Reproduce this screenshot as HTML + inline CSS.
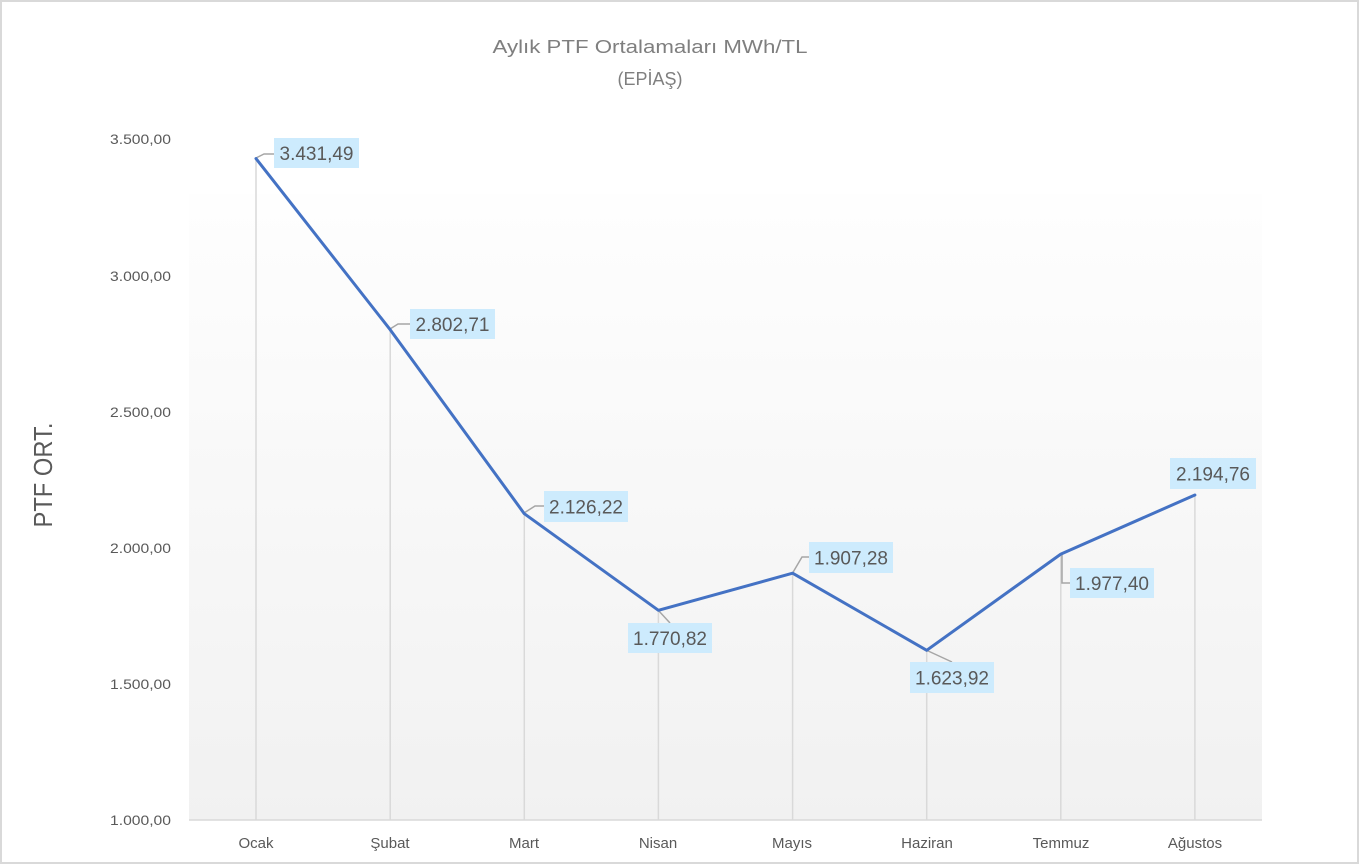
<!DOCTYPE html>
<html>
<head>
<meta charset="utf-8">
<style>
  html,body{margin:0;padding:0;background:#fff;}
  body{width:1360px;height:865px;overflow:hidden;}
  svg{display:block;}
  text{font-family:"Liberation Sans","DejaVu Sans",sans-serif;}
</style>
</head>
<body>
<svg width="1360" height="865" viewBox="0 0 1360 865" xmlns="http://www.w3.org/2000/svg">
  <defs>
    <linearGradient id="pa" x1="0" y1="0" x2="0" y2="1">
      <stop offset="0" stop-color="#fefefe"/>
      <stop offset="1" stop-color="#f1f1f1"/>
    </linearGradient>
  </defs>
  <!-- outer background & border -->
  <rect x="0" y="0" width="1360" height="865" fill="#ffffff"/>
  <rect x="1" y="1" width="1357" height="862" fill="none" stroke="#d9d9d9" stroke-width="2"/>

  <!-- title -->
  <text x="650" y="53" text-anchor="middle" font-size="18" fill="#7f7f7f" textLength="315" lengthAdjust="spacingAndGlyphs">Aylık PTF Ortalamaları MWh/TL</text>
  <text x="650" y="85" text-anchor="middle" font-size="18" fill="#7f7f7f">(EPİAŞ)</text>

  <!-- plot area -->
  <rect x="189" y="194" width="1073" height="626" fill="url(#pa)"/>

  <!-- y axis title -->
  <text transform="translate(52,475) rotate(-90)" text-anchor="middle" font-size="26" fill="#595959" textLength="105" lengthAdjust="spacingAndGlyphs">PTF ORT.</text>

  <!-- y tick labels -->
  <g font-size="13.5" fill="#595959" text-anchor="end">
    <text x="171" y="144" textLength="61" lengthAdjust="spacingAndGlyphs">3.500,00</text>
    <text x="171" y="281" textLength="61" lengthAdjust="spacingAndGlyphs">3.000,00</text>
    <text x="171" y="417" textLength="61" lengthAdjust="spacingAndGlyphs">2.500,00</text>
    <text x="171" y="553" textLength="61" lengthAdjust="spacingAndGlyphs">2.000,00</text>
    <text x="171" y="689" textLength="61" lengthAdjust="spacingAndGlyphs">1.500,00</text>
    <text x="171" y="825" textLength="61" lengthAdjust="spacingAndGlyphs">1.000,00</text>
  </g>

  <!-- drop lines -->
  <g stroke="#d9d9d9" stroke-width="1.5">
    <line x1="256" y1="158.6" x2="256" y2="820"/>
    <line x1="390.2" y1="329.7" x2="390.2" y2="820"/>
    <line x1="524.3" y1="513.7" x2="524.3" y2="820"/>
    <line x1="658.4" y1="610.3" x2="658.4" y2="820"/>
    <line x1="792.6" y1="573.2" x2="792.6" y2="820"/>
    <line x1="926.7" y1="650.3" x2="926.7" y2="820"/>
    <line x1="1060.8" y1="554.1" x2="1060.8" y2="820"/>
    <line x1="1194.9" y1="495" x2="1194.9" y2="820"/>
  </g>

  <!-- x axis -->
  <line x1="189" y1="820" x2="1262" y2="820" stroke="#d9d9d9" stroke-width="1.5"/>

  <!-- category labels -->
  <g font-size="15" fill="#595959" text-anchor="middle">
    <text x="256" y="848">Ocak</text>
    <text x="390" y="848">Şubat</text>
    <text x="524" y="848">Mart</text>
    <text x="658" y="848">Nisan</text>
    <text x="792" y="848">Mayıs</text>
    <text x="927" y="848">Haziran</text>
    <text x="1061" y="848">Temmuz</text>
    <text x="1195" y="848">Ağustos</text>
  </g>

  <!-- leader lines -->
  <g stroke="#a6a6a6" stroke-width="1.5" fill="none">
    <path d="M256,158 L264,154 L274,154"/>
    <path d="M390,329 L398,324 L410,324"/>
    <path d="M524,513 L535,506 L544,506"/>
    <path d="M658,610 L670,623"/>
    <path d="M792,574 L802,557 L809,557"/>
    <path d="M926,650 L952,662"/>
    <path d="M1062,555 L1062,583 L1070,583"/>
  </g>

  <!-- series line -->
  <polyline points="256,158.6 390.2,329.7 524.3,513.7 658.4,610.3 792.6,573.2 926.7,650.3 1060.8,554.1 1194.9,495"
            fill="none" stroke="#4472c4" stroke-width="3" stroke-linejoin="round" stroke-linecap="round"/>

  <!-- data label boxes -->
  <g fill="#cdebfd">
    <rect x="274" y="138" width="85" height="30"/>
    <rect x="410" y="309" width="85" height="30"/>
    <rect x="544" y="491" width="84" height="31"/>
    <rect x="628" y="623" width="84" height="30"/>
    <rect x="809" y="542" width="84" height="31"/>
    <rect x="910" y="662" width="84" height="31"/>
    <rect x="1070" y="568" width="84" height="30"/>
    <rect x="1170" y="458" width="86" height="31"/>
  </g>
  <g font-size="19" fill="#595959" text-anchor="middle">
    <text x="316.5" y="160" textLength="74" lengthAdjust="spacingAndGlyphs">3.431,49</text>
    <text x="452.5" y="331" textLength="74" lengthAdjust="spacingAndGlyphs">2.802,71</text>
    <text x="586" y="513.5" textLength="74" lengthAdjust="spacingAndGlyphs">2.126,22</text>
    <text x="670" y="645" textLength="74" lengthAdjust="spacingAndGlyphs">1.770,82</text>
    <text x="851" y="564.5" textLength="74" lengthAdjust="spacingAndGlyphs">1.907,28</text>
    <text x="952" y="684.5" textLength="74" lengthAdjust="spacingAndGlyphs">1.623,92</text>
    <text x="1112" y="590" textLength="74" lengthAdjust="spacingAndGlyphs">1.977,40</text>
    <text x="1213" y="480.5" textLength="74" lengthAdjust="spacingAndGlyphs">2.194,76</text>
  </g>
</svg>
</body>
</html>
